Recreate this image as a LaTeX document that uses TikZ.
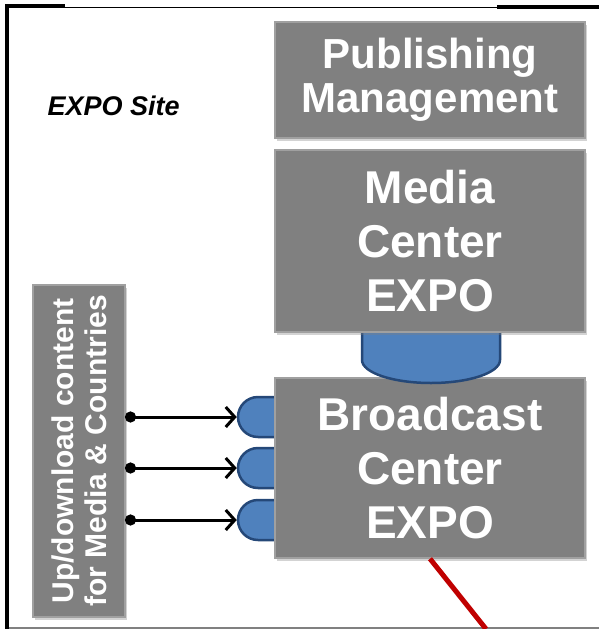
\documentclass[tikz,border=0pt]{standalone}
\usepackage{fontspec}
\setmainfont{Liberation Sans}
\usetikzlibrary{shapes.misc,arrows.meta,shadows}
\definecolor{boxgray}{RGB}{128,128,128}
\definecolor{boxrim}{RGB}{160,160,160}
\definecolor{portblue}{RGB}{79,129,189}
\definecolor{portedge}{RGB}{37,72,120}
\definecolor{linkred}{RGB}{192,0,0}
\tikzset{
  box/.style={rectangle, fill=boxgray, draw=boxrim, line width=1.5pt, text=white,
    align=center, inner sep=0pt, drop shadow={shadow xshift=2pt, shadow yshift=-3pt, opacity=0.35}},
  port/.style={rounded rectangle, rounded rectangle right arc=none, fill=portblue,
    draw=portedge, line width=2.5pt, minimum width=46pt, minimum height=40pt, inner sep=0pt},
  feed/.style={line width=3pt, {Circle[length=11pt]}-{Straight Barb[length=9pt,width=20pt,line width=3pt]}}
}
\begin{document}
\begin{tikzpicture}[x=1pt,y=-1pt]
    \useasboundingbox (0,0) rectangle (599,629);
    % outer frame
    \draw[line width=4pt] (7,629) -- (7,6) -- (65,6);
    \draw[line width=1.5pt] (65,7.5) -- (497,7.5);
    \draw[line width=4pt] (497,7) -- (599,7);
    \draw[line width=1.2pt, gray] (9,628) -- (599,628);
    \node[font=\fontsize{27}{29}\selectfont\bfseries\itshape, anchor=west] (site) at (44,106) {EXPO Site};
    % ports first, the box covers their right side
    \foreach \y/\n in {417/1,468/2,520/3}
      \node[port] (p\n) at (261,\y) {};
    \node[box, minimum width=310pt, minimum height=180pt, font=\fontsize{46}{54}\selectfont\bfseries]
      (bc) at (430,468) {Broadcast\\Center\\EXPO};
    \draw[fill=portblue, draw=portedge, line width=2.5pt]
      (362,325) -- (362,360) arc[start angle=180, end angle=0, x radius=69, y radius=23] -- (500,325);
    \node[box, minimum width=310pt, minimum height=182pt, font=\fontsize{46}{54}\selectfont\bfseries]
      (mc) at (430,241) {Media\\Center\\EXPO};
    \node[box, minimum width=310pt, minimum height=116pt, font=\fontsize{42}{44}\selectfont\bfseries]
      (pub) at (430,80) {Publishing\\Management};
    \node[box, rotate=90, minimum width=332pt, minimum height=92pt, font=\fontsize{30}{33}\selectfont\bfseries]
      (up) at (79,451) {Up/download content\\for Media \& Countries};
    \foreach \y/\n in {417/1,468/2,520/3} {
      \coordinate (d\n) at (125,\y);
      \draw[feed] (d\n) -- (p\n.west);
    }
    \coordinate (down) at (486,629);
    \draw[linkred, line width=5pt] (bc.south) -- (down);
\end{tikzpicture}
\end{document}
